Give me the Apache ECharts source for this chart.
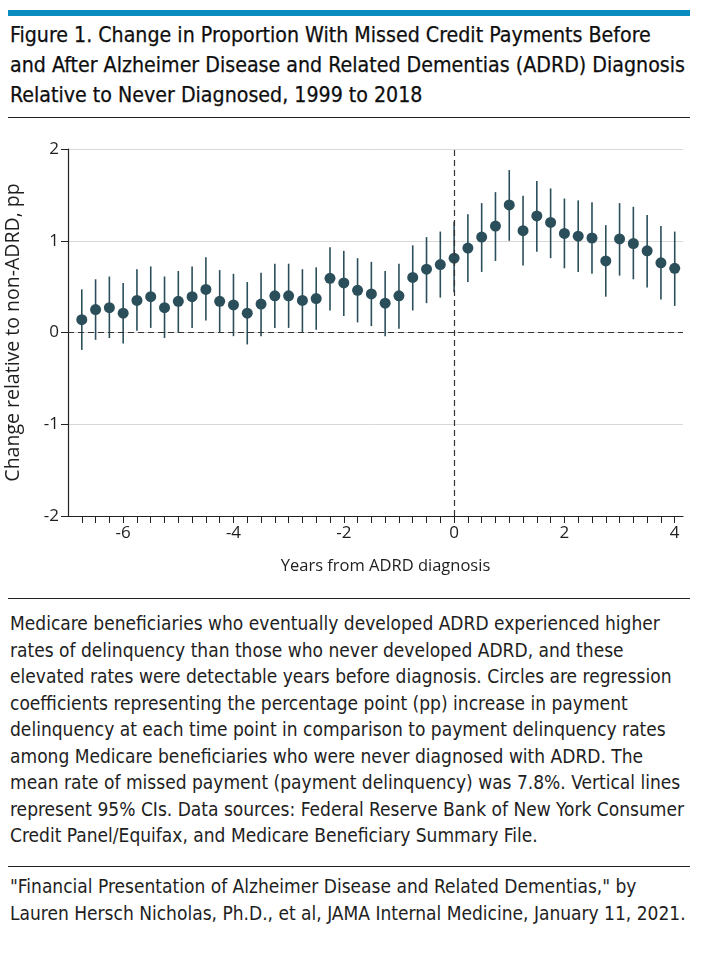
<!DOCTYPE html>
<html lang="en">
<head>
  <meta charset="UTF-8">
  <title>Missed Credit Payments Before and After ADRD Diagnosis</title>
  <script src="https://cdn.jsdelivr.net/npm/echarts@6/dist/echarts.min.js"></script>
  <style>
    body { margin: 0; width: 716px; height: 959px; position: relative; background: #fff; color: #1e1e1e;
           font-family: "Liberation Sans Narrow", "DejaVu Sans Condensed", "Roboto Condensed", Roboto, sans-serif; }
    .bar { position: absolute; left: 8px; width: 682px; top: 10px; height: 6px; background: #0a8cc0; }
    .rule { position: absolute; left: 8px; width: 682px; height: 1px; background: #222; }
    #title { position: absolute; left: 10px; top: 20px; font-size: 21.2px; line-height: 30px; color: #0e0e0e; -webkit-text-stroke: 0.25px #0e0e0e; }
    #caption { position: absolute; left: 10px; top: 610px; font-size: 19px; line-height: 26.5px; }
    #source { position: absolute; left: 10px; top: 873px; font-size: 19px; line-height: 27px; }
    #chart { position: absolute; left: 0; top: 120px; width: 716px; height: 470px; }
  </style>
</head>
<body>
  <div class="bar"></div>
  <div id="title">Figure 1. Change in Proportion With Missed Credit Payments Before<br>and After Alzheimer Disease and Related Dementias (ADRD) Diagnosis<br>Relative to Never Diagnosed, 1999 to 2018</div>
  <div class="rule" style="top:117px"></div>
  <div id="chart"></div>
  <div class="rule" style="top:598px"></div>
  <div id="caption">Medicare beneficiaries who eventually developed ADRD experienced higher<br>rates of delinquency than those who never developed ADRD, and these<br>elevated rates were detectable years before diagnosis. Circles are regression<br>coefficients representing the percentage point (pp) increase in payment<br>delinquency at each time point in comparison to payment delinquency rates<br>among Medicare beneficiaries who were never diagnosed with ADRD. The<br>mean rate of missed payment (payment delinquency) was 7.8%. Vertical lines<br>represent 95% CIs. Data sources: Federal Reserve Bank of New York Consumer<br>Credit Panel/Equifax, and Medicare Beneficiary Summary File.</div>
  <div class="rule" style="top:866px"></div>
  <div id="source">"Financial Presentation of Alzheimer Disease and Related Dementias," by<br>Lauren Hersch Nicholas, Ph.D., et al, JAMA Internal Medicine, January 11, 2021.</div>

  <script>
    // years from diagnosis, one point per quarter
    const years = [-6.75, -6.5, -6.25, -6, -5.75, -5.5, -5.25, -5, -4.75, -4.5, -4.25, -4,
                   -3.75, -3.5, -3.25, -3, -2.75, -2.5, -2.25, -2, -1.75, -1.5, -1.25, -1,
                   -0.75, -0.5, -0.25, 0, 0.25, 0.5, 0.75, 1, 1.25, 1.5, 1.75, 2,
                   2.25, 2.5, 2.75, 3, 3.25, 3.5, 3.75, 4];
    // point estimates (pp)
    const coef = [0.14, 0.25, 0.27, 0.21, 0.35, 0.39, 0.27, 0.34, 0.39, 0.47, 0.34, 0.30,
                  0.21, 0.31, 0.40, 0.40, 0.35, 0.37, 0.59, 0.54, 0.46, 0.42, 0.32, 0.40,
                  0.60, 0.69, 0.74, 0.81, 0.92, 1.04, 1.16, 1.39, 1.11, 1.27, 1.20, 1.08,
                  1.05, 1.03, 0.78, 1.02, 0.97, 0.89, 0.76, 0.70];
    // 95% CI bounds
    const ciLow = [-0.19, -0.08, -0.06, -0.12, 0.02, 0.05, -0.06, 0.00, 0.05, 0.13, 0.00, -0.04,
                   -0.13, -0.04, 0.05, 0.05, 0.00, 0.03, 0.24, 0.18, 0.11, 0.07, -0.04, 0.04,
                   0.24, 0.32, 0.38, 0.44, 0.55, 0.66, 0.78, 1.00, 0.73, 0.88, 0.81, 0.70,
                   0.66, 0.64, 0.39, 0.62, 0.58, 0.49, 0.36, 0.29];
    const ciHigh = [0.47, 0.58, 0.61, 0.54, 0.69, 0.72, 0.61, 0.67, 0.72, 0.82, 0.68, 0.64,
                    0.55, 0.65, 0.75, 0.75, 0.69, 0.71, 0.93, 0.89, 0.81, 0.77, 0.67, 0.75,
                    0.95, 1.04, 1.10, 1.21, 1.29, 1.41, 1.53, 1.77, 1.49, 1.65, 1.57, 1.46,
                    1.44, 1.42, 1.17, 1.41, 1.37, 1.28, 1.16, 1.10];
    const xTickLabels = [-6, -4, -2, 0, 2, 4];
    const yTickLabels = [-2, -1, 0, 1, 2];

    const dotColor = '#2b4e5b';
    const textColor = '#1e1e1e';
    const font = '"Open Sans", "Noto Sans", sans-serif';

    var chart = echarts.init(document.getElementById('chart'));

    const points = years.map((x, i) => [x, coef[i]]);
    const bars = years.map((x, i) => [x, ciLow[i], ciHigh[i]]);

    const option = {
      animation: false,
      grid: { left: 68, right: 33, top: 29, bottom: 74, containLabel: false, outerBoundsMode: 'none' },
      xAxis: {
        type: 'value',
        min: -7,
        max: 4.15,
        name: 'Years from ADRD diagnosis',
        nameLocation: 'middle',
        nameGap: 42,
        nameTextStyle: { color: textColor, fontSize: 16.5, fontFamily: font, padding: [0, 0, 0, 20] },
        axisLine: { onZero: false, lineStyle: { color: '#222', width: 1.2 } },
        axisTick: { show: true, customValues: years, length: 7, lineStyle: { color: '#222', width: 1 } },
        axisLabel: { customValues: xTickLabels, color: textColor, fontSize: 17, fontFamily: font, margin: 9 },
        splitLine: { show: false }
      },
      yAxis: {
        type: 'value',
        min: -2,
        max: 2,
        interval: 1,
        name: 'Change relative to non-ADRD, pp',
        nameLocation: 'middle',
        nameGap: 45,
        nameTextStyle: { color: textColor, fontSize: 19.5, fontFamily: font },
        axisLine: { show: true, onZero: false, lineStyle: { color: '#222', width: 1.2 } },
        axisTick: { show: true, length: 7, lineStyle: { color: '#222' } },
        axisLabel: { color: textColor, fontSize: 17, fontFamily: font, margin: 9,
                     formatter: v => yTickLabels.includes(v) ? String(v) : '' },
        splitLine: { show: true, lineStyle: { color: '#d8d8d8', width: 1 } }
      },
      series: [
        {
          type: 'custom',
          silent: true,
          z: 2,
          renderItem: function (params, api) {
            const top = api.coord([api.value(0), api.value(2)]);
            const bot = api.coord([api.value(0), api.value(1)]);
            return {
              type: 'line',
              shape: { x1: top[0], y1: top[1], x2: bot[0], y2: bot[1] },
              style: { stroke: dotColor, lineWidth: 1.6 }
            };
          },
          encode: { x: 0, y: [1, 2] },
          data: bars
        },
        {
          type: 'scatter',
          z: 3,
          symbol: 'circle',
          symbolSize: 11,
          itemStyle: { color: dotColor, opacity: 1 },
          data: points,
          markLine: {
            silent: true,
            symbol: 'none',
            label: { show: false },
            lineStyle: { color: '#333', type: [6, 4], width: 1.2 },
            data: [
              { yAxis: 0 },
              { xAxis: 0 }
            ]
          }
        }
      ]
    };

    chart.setOption(option);
  </script>
</body>
</html>
